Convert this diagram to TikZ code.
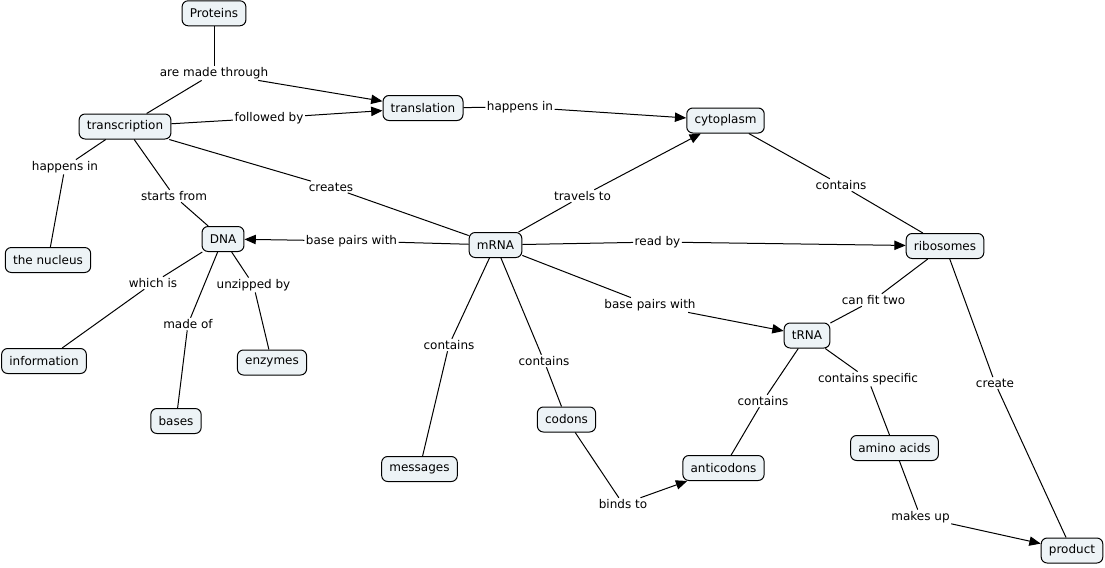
\documentclass[tikz,border=0pt]{standalone}
\usepackage{fontspec}
\setmainfont{DejaVu Sans}
\usetikzlibrary{arrows.meta}
\definecolor{cfill}{RGB}{237,243,246}
\tikzset{
  concept/.style={draw=black, line width=0.75pt, fill=cfill, rounded corners=4.5pt,
    inner xsep=5.8pt, inner ysep=0pt, minimum height=18.75pt, font=\fontsize{9pt}{11pt}\selectfont},
  lbl/.style={inner sep=1pt, font=\fontsize{9pt}{11pt}\selectfont},
  link/.style={line width=0.75pt, draw=black},
  alink/.style={link, -{Triangle[length=8.5pt,width=7pt]}},
}
\begin{document}
\begin{tikzpicture}[x=0.75pt,y=-0.75pt]
\useasboundingbox[fill=white] (0,0) rectangle (1105,567);
% concepts
\node[concept] (proteins) at (214,13.3) {Proteins};
\node[concept] (transcription) at (125,126.5) {transcription};
\node[concept] (translation) at (423,108) {translation};
\node[concept] (cytoplasm) at (725.5,120.5) {cytoplasm};
\node[concept] (dna) at (223,239) {DNA};
\node[concept] (nucleus) at (48,260) {the nucleus};
\node[concept] (mrna) at (495.5,245) {mRNA};
\node[concept] (ribosomes) at (945,246) {ribosomes};
\node[concept] (information) at (44,361) {information};
\node[concept] (enzymes) at (272,362.5) {enzymes};
\node[concept] (bases) at (176,421) {bases};
\node[concept] (trna) at (807,335.5) {tRNA};
\node[concept] (messages) at (419.5,469) {messages};
\node[concept] (codons) at (566.5,419.5) {codons};
\node[concept] (anticodons) at (723.5,468) {anticodons};
\node[concept] (amino) at (894.5,448) {amino acids};
\node[concept] (product) at (1072,550.5) {product};
% linking phrases
\node[lbl] (l1) at (214,73) {are made through};
\node[lbl] (l2) at (269,118) {followed by};
\node[lbl] (l3) at (65,167) {happens in};
\node[lbl] (l4) at (174,196) {starts from};
\node[lbl] (l5) at (331,187) {creates};
\node[lbl] (l6) at (520,107) {happens in};
\node[lbl] (l7) at (582.5,196) {travels to};
\node[lbl] (l8) at (841,185) {contains};
\node[lbl] (l9) at (351.5,241) {base pairs with};
\node[lbl] (l10) at (657.5,242) {read by};
\node[lbl] (l11) at (153,283) {which is};
\node[lbl] (l12) at (188,324) {made of};
\node[lbl] (l13) at (253.5,285) {unzipped by};
\node[lbl] (l14) at (650,305) {base pairs with};
\node[lbl] (l15) at (873.5,300) {can fit two};
\node[lbl] (l16) at (449,345) {contains};
\node[lbl] (l17) at (544,361) {contains};
\node[lbl] (l18) at (868,379) {contains specific};
\node[lbl] (l19) at (995,383) {create};
\node[lbl] (l20) at (763,401) {contains};
\node[lbl] (l21) at (623,504) {binds to};
\node[lbl] (l22) at (920.5,517) {makes up};
% connectors
\draw[link] (proteins) -- (l1);
\draw[link] (transcription) -- (l1);
\draw[alink] (l1) -- (translation);
\draw[link] (transcription) -- (l2);
\draw[alink] (l2) -- (translation);
\draw[link] (transcription) -- (l3);
\draw[link] (l3) -- (nucleus);
\draw[link] (transcription) -- (l4);
\draw[link] (l4) -- (dna);
\draw[link] (transcription) -- (l5);
\draw[link] (l5) -- (mrna);
\draw[link] (translation) -- (l6);
\draw[alink] (l6) -- (cytoplasm);
\draw[link] (mrna) -- (l7);
\draw[alink] (l7) -- (cytoplasm);
\draw[link] (cytoplasm) -- (l8);
\draw[link] (l8) -- (ribosomes);
\draw[link] (mrna) -- (l9);
\draw[alink] (l9) -- (dna);
\draw[link] (mrna) -- (l10);
\draw[alink] (l10) -- (ribosomes);
\draw[link] (dna) -- (l11);
\draw[link] (l11) -- (information);
\draw[link] (dna) -- (l12);
\draw[link] (l12) -- (bases);
\draw[link] (dna) -- (l13);
\draw[link] (l13) -- (enzymes);
\draw[link] (mrna) -- (l14);
\draw[alink] (l14) -- (trna);
\draw[link] (ribosomes) -- (l15);
\draw[link] (l15) -- (trna);
\draw[link] (mrna) -- (l16);
\draw[link] (l16) -- (messages);
\draw[link] (mrna) -- (l17);
\draw[link] (l17) -- (codons);
\draw[link] (trna) -- (l18);
\draw[link] (l18) -- (amino);
\draw[link] (ribosomes) -- (l19);
\draw[link] (l19) -- (product);
\draw[link] (trna) -- (l20);
\draw[link] (l20) -- (anticodons);
\draw[link] (codons) -- (l21);
\draw[alink] (l21) -- (anticodons);
\draw[link] (amino) -- (l22);
\draw[alink] (l22) -- (product);
\end{tikzpicture}
\end{document}
